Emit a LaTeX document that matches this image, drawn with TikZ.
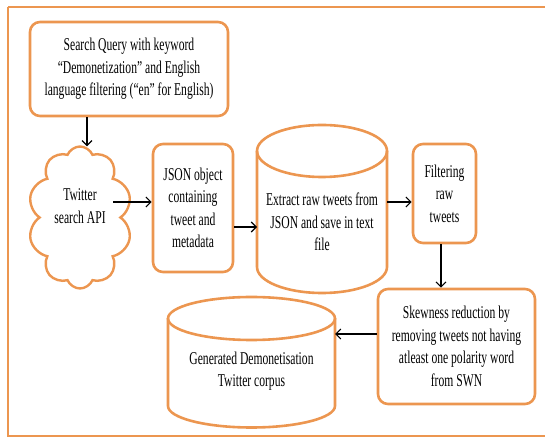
\documentclass[tikz,border=0pt]{standalone}
\usepackage{fontspec}
\setmainfont{Liberation Serif}[FakeStretch=0.645]
\usetikzlibrary{shapes.symbols,arrows.meta}
\definecolor{org}{RGB}{236,150,80}
\begin{document}
\begin{tikzpicture}[x=1pt,y=1pt,
  box/.style={draw=org,line width=2.6pt,rounded corners=10pt,inner sep=0pt,align=center,
    font=\fontsize{18}{22.5}\selectfont},
  txt/.style={align=center,inner sep=0pt,font=\fontsize{18}{22.5}\selectfont},
  arr/.style={draw=black,line width=1.1pt,-{Straight Barb[length=5pt,width=10pt]}},
  cylline/.style={draw=org,line width=2.6pt},
  ghost/.style={inner sep=0pt,outer sep=0pt}]
\useasboundingbox (0,0) rectangle (545,438);
\clip (0,0) rectangle (545,438);
\draw[org,line width=2.5pt] (8,431) -- (560,431) (8,431) -- (8,2) -- (560,2);

% boxes
\node[box,minimum width=198pt,minimum height=94pt] (q) at (129,369)
  {Search Query with keyword\\“Demonetization” and English\\language filtering (“en” for English)};
\node[box,minimum width=80pt,minimum height=128pt] (json) at (193,230)
  {JSON object\\containing\\tweet and\\metadata};
\node[box,minimum width=63pt,minimum height=99pt] (filt) at (444.5,244.5)
  {Filtering\\raw\\tweets};
\node[box,minimum width=157pt,minimum height=115pt] (skew) at (456.5,91.5)
  {Skewness reduction by\\removing tweets not having\\atleast one polarity word\\from SWN};

% cloud
\node[cloud,draw=org,line width=2.4pt,cloud puffs=10,cloud puff arc=135,cloud ignores aspect,
  minimum width=104pt,minimum height=142pt,inner sep=0pt] (cloud) at (80,220.5) {};
\node[txt] (cloudt) at (80,232) {Twitter\\search API};

% cylinder 1
\node[ghost,minimum width=130pt,minimum height=168pt] (c1) at (322,229) {};
\draw[cylline] (257,287) -- (257,171) arc[start angle=180,end angle=360,x radius=65pt,y radius=26pt] -- (387,287);
\draw[cylline] (322,287) ellipse[x radius=65pt,y radius=26pt];
\node[txt] (c1t) at (322,216) {Extract raw tweets from\\JSON and save in text\\file};

% cylinder 2
\node[ghost,minimum width=167pt,minimum height=130pt] (c2) at (251.5,76) {};
\draw[cylline] (168,119.5) -- (168,32) arc[start angle=180,end angle=360,x radius=83.5pt,y radius=21.5pt] -- (335,119.5);
\draw[cylline] (251.5,119.5) ellipse[x radius=83.5pt,y radius=21.5pt];
\node[txt] (c2t) at (251.5,67) {Generated Demonetisation\\Twitter corpus};

% connectors
\coordinate (ax) at (87,0);
\draw[arr] (q.south -| ax) -- ([yshift=-1pt]cloud.north -| ax);
\draw[arr] ([xshift=-9pt]cloud.east |- 0,236) -- (json.west |- 0,236);
\draw[arr] (json.east |- 0,211) -- (c1.west |- 0,211);
\draw[arr] (c1.east |- 0,236) -- (filt.west |- 0,236);
\coordinate (bx) at (441,0);
\draw[arr] (filt.south -| bx) -- (skew.north -| bx);
\draw[arr] (skew.west |- 0,104) -- (c2.east |- 0,104);
\end{tikzpicture}
\end{document}
